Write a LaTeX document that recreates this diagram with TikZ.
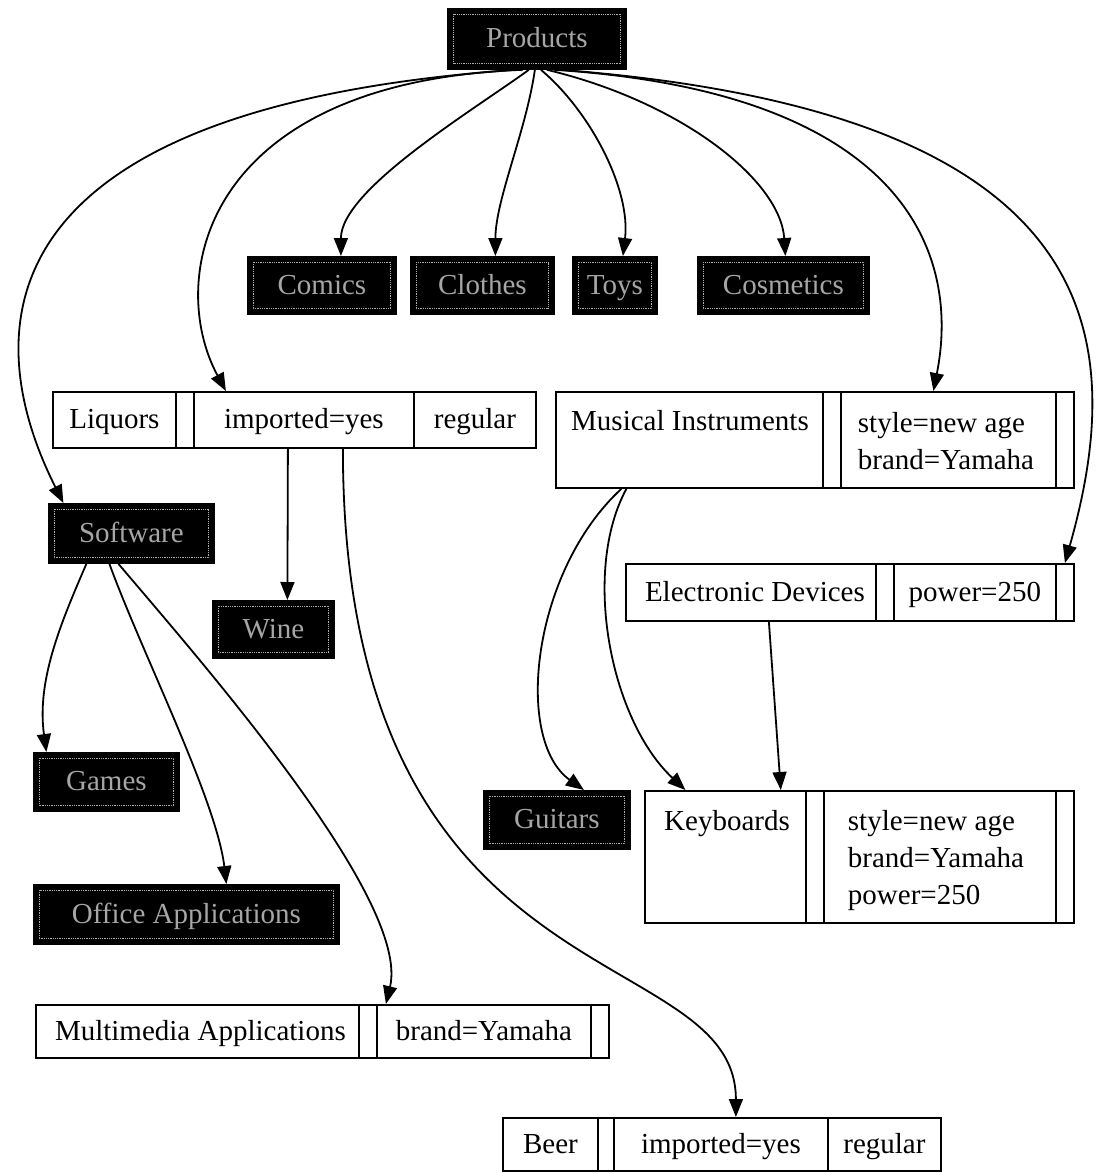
\documentclass[tikz,border=0pt]{standalone}
\usepackage{fontspec}
\setmainfont{Liberation Serif}
\usetikzlibrary{arrows.meta}

\tikzset{
  cell/.style={draw, line width=1.8pt, inner sep=0pt, anchor=north west, align=left},
  one/.style={text height=20pt, text depth=2pt},
  dark/.style={draw, fill=black, line width=1.8pt, text=gray!70, inner sep=0pt, anchor=north west, one},
  plain/.style={inner sep=0pt, align=left},
  inset/.style={draw=gray!65, line width=0.8pt, densely dotted},
  link/.style={line width=1.8pt, -{Triangle[length=18pt,width=14pt]}},
}

\begin{document}
\begin{tikzpicture}[x=1pt, y=-1pt, font=\fontsize{29}{37}\selectfont]
\useasboundingbox (0,0) rectangle (1114,1173);

% category boxes without own attributes
\node[dark, minimum width=178, minimum height=60] (prod) at (447,8) {Products};
\node[dark, minimum width=148, minimum height=57] (comics) at (247,256) {Comics};
\node[dark, minimum width=143, minimum height=57] (clothes) at (410,256) {Clothes};
\node[dark, minimum width=84, minimum height=57] (toys) at (572,256) {Toys};
\node[dark, minimum width=171, minimum height=57] (cosm) at (697,256) {Cosmetics};
\node[dark, minimum width=165, minimum height=59] (soft) at (48,503) {Software};
\node[dark, minimum width=121, minimum height=57] (wine) at (212,600) {Wine};
\node[dark, minimum width=145, minimum height=58] (games) at (33,752) {Games};
\node[dark, minimum width=146, minimum height=58] (guit) at (483,790) {Guitars};
\node[dark, minimum width=305, minimum height=59] (office) at (33,884) {Office Applications};

\foreach \n in {prod,comics,clothes,toys,cosm,soft,wine,games,guit,office}
  \draw[inset] ([shift={(6,6)}]\n.north west) rectangle ([shift={(-6,-6)}]\n.south east);

% Liquors record
\node[cell, one, minimum width=123, minimum height=56] (liq) at (52,391) {Liquors};
\node[cell, minimum width=18, minimum height=56] (liqgap) at (175,391) {};
\node[cell, one, minimum width=220, minimum height=56] (liqimp) at (193,391) {imported=yes};
\node[cell, one, minimum width=122, minimum height=56] (liqreg) at (413,391) {regular};

% Musical Instruments record
\node[cell, minimum width=267, minimum height=96] (mus) at (555,391) {};
\node[plain] (mustext) at (690,421) {Musical Instruments};
\node[cell, minimum width=18, minimum height=96] (musgap) at (822,391) {};
\node[cell, minimum width=215, minimum height=96] (musatt) at (840,391) {};
\node[plain] (musattext) at (946,441) {style=new age\\brand=Yamaha};
\node[cell, minimum width=18, minimum height=96] (musend) at (1055,391) {};

% Electronic Devices record
\node[cell, one, minimum width=250, minimum height=57] (elec) at (625,563) {\hspace*{8pt}Electronic Devices};
\node[cell, minimum width=18, minimum height=57] (elecgap) at (875,563) {};
\node[cell, one, minimum width=162, minimum height=57] (elecatt) at (893,563) {power=250};
\node[cell, minimum width=18, minimum height=57] (elecend) at (1055,563) {};

% Keyboards record
\node[cell, minimum width=161, minimum height=132] (keys) at (644,790) {};
\node[plain] (keystext) at (727,824) {Keyboards};
\node[cell, minimum width=18, minimum height=132] (keysgap) at (805,790) {};
\node[cell, minimum width=232, minimum height=132] (keysatt) at (823,790) {};
\node[plain] (keysattext) at (936,861) {style=new age\\brand=Yamaha\\power=250};
\node[cell, minimum width=18, minimum height=132] (keysend) at (1055,790) {};

% Multimedia Applications record
\node[cell, one, minimum width=323, minimum height=53] (mm) at (35,1004) {\hspace*{6pt}Multimedia Applications};
\node[cell, minimum width=18, minimum height=53] (mmgap) at (358,1004) {};
\node[cell, one, minimum width=214, minimum height=53] (mmatt) at (376,1004) {brand=Yamaha};
\node[cell, minimum width=18, minimum height=53] (mmend) at (590,1004) {};

% Beer record
\node[cell, one, minimum width=95, minimum height=53] (beer) at (502,1117) {Beer};
\node[cell, minimum width=16, minimum height=53] (beergap) at (597,1117) {};
\node[cell, one, minimum width=214, minimum height=53] (beerimp) at (613,1117) {imported=yes};
\node[cell, one, minimum width=113, minimum height=53] (beerreg) at (827,1117) {regular};

% links from the root
\draw[link] ([xshift=-21]prod.south) .. controls +(-595,42) and +(-62,-123) .. ([xshift=-68]soft.north);
\draw[link] ([xshift=-14]prod.south) .. controls +(-322,12) and +(-60,-111) .. ([xshift=-78]liqimp.north);
\draw[link] ([xshift=-8]prod.south) .. controls +(-58,42) and +(0,-66) .. ([xshift=19]comics.north);
\draw[link] ([xshift=-2]prod.south) .. controls +(-9,62) and +(0,-56) .. ([xshift=13]clothes.north);
\draw[link] ([xshift=4]prod.south) .. controls +(50,42) and +(8,-66) .. ([xshift=8]toys.north);
\draw[link] ([xshift=10]prod.south) .. controls +(134,32) and +(-5,-76) .. ([xshift=2]cosm.north);
\draw[link] ([xshift=17]prod.south) .. controls +(347,22) and +(28,-141) .. ([xshift=-15]musatt.north);
\draw[link] ([xshift=24]prod.south) .. controls +(540,42) and +(66,-233) .. (elecend.north);

% links between records
\draw[link] ([xshift=-16]liqimp.south) -- ([xshift=14]wine.north);
\draw[link] ([xshift=39]liqimp.south) .. controls +(0,560) and +(0,-180) .. ([xshift=15]beerimp.north);
\draw[link] ([xshift=-45]soft.south) .. controls +(-25,58) and +(-10,-72) .. ([xshift=-60]games.north);
\draw[link] ([xshift=-22]soft.south) .. controls +(32,88) and +(-10,-84) .. ([xshift=40]office.north);
\draw[link] ([xshift=-13]soft.south) .. controls +(83,98) and +(25,-104) .. ([xshift=-98]mmatt.north);
\draw[link] ([xshift=-68]mus.south) .. controls +(-90,83) and +(-70,-50) .. ([xshift=27]guit.north);
\draw[link] ([xshift=-63]mus.south) .. controls +(-45,83) and +(-75,-70) .. ([xshift=-40]keys.north);
\draw[link] ([xshift=18]elec.south) -- ([xshift=-26]keysatt.north -| keys.north east);
\end{tikzpicture}
\end{document}
